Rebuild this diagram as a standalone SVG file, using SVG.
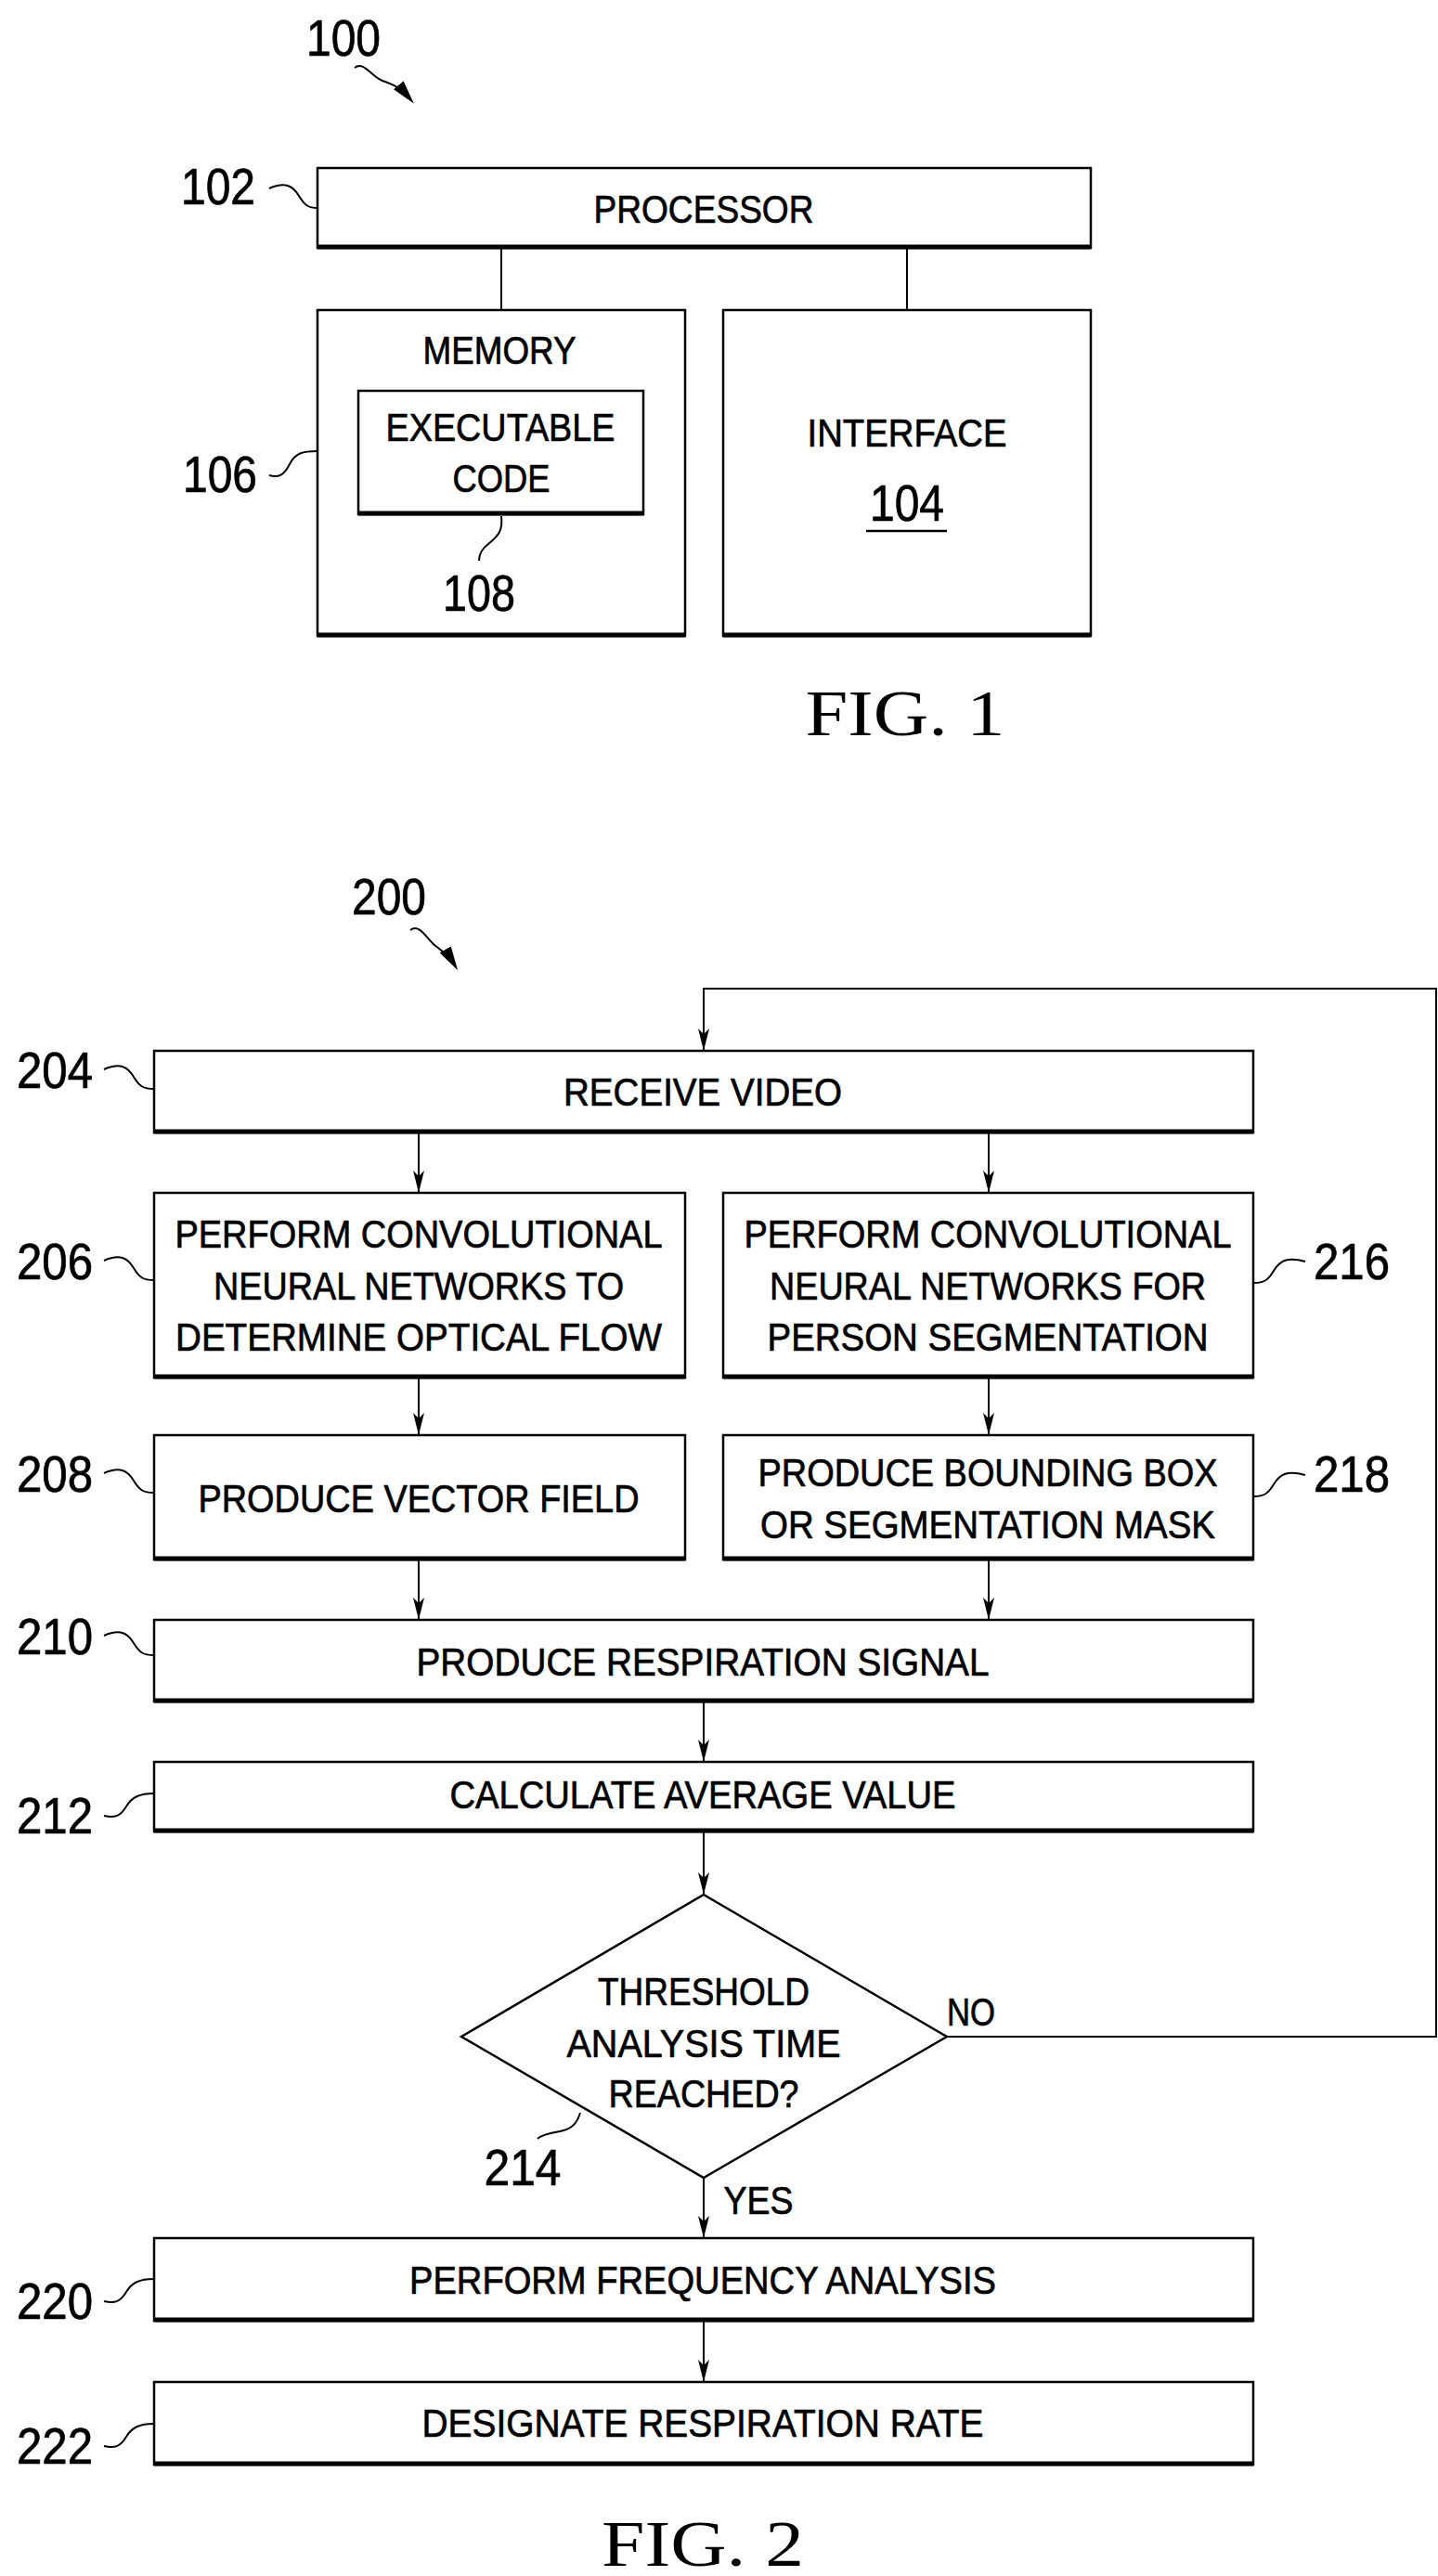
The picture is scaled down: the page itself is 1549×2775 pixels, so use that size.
<svg xmlns="http://www.w3.org/2000/svg" width="1549" height="2775" viewBox="0 0 1549 2775">
<style>
.b{fill:#fff;stroke:#000;stroke-width:2.5}
.sh{stroke:#000;stroke-width:5;fill:none}
.t{font-family:"Liberation Sans",Arial,sans-serif;font-size:43px;text-anchor:middle;fill:#000;stroke:#000;stroke-width:0.7}
.l{font-family:"Liberation Sans",Arial,sans-serif;font-size:55px;text-anchor:middle;fill:#000;stroke:#000;stroke-width:0.7}
.f{font-family:"Liberation Serif","Times New Roman",serif;font-size:70px;text-anchor:middle;fill:#000}
.c{stroke:#000;stroke-width:2;fill:none}
.q{stroke:#000;stroke-width:2;fill:none}
</style>
<defs>
<marker id="a" markerWidth="24" markerHeight="12" refX="24" refY="6" orient="auto" markerUnits="userSpaceOnUse" viewBox="0 0 24 12"><path d="M0,0 L24,6 L0,12 L6,6 Z" fill="#000"/></marker>
<marker id="ah" markerWidth="26" markerHeight="14" refX="20" refY="7" orient="auto" markerUnits="userSpaceOnUse" viewBox="0 0 26 14"><path d="M0,0 L26,7 L0,14 Z" fill="#000"/></marker>
</defs>
<g id="label100"><text class="l" x="370" y="60" textLength="80" lengthAdjust="spacingAndGlyphs">100</text><path class="q" d="M382,73 c10,-8 18,10 30,14 c12,4 20,8 30,20" marker-end="url(#ah)"/></g>
<g id="processor"><rect class="b" x="342" y="181" width="833" height="86"/><line class="sh" x1="342" y1="266" x2="1175" y2="266"/><text class="t" x="758" y="240" textLength="237" lengthAdjust="spacingAndGlyphs">PROCESSOR</text><text class="l" x="235" y="220" textLength="80" lengthAdjust="spacingAndGlyphs">102</text><path class="q" d="M290,203 c18,-8 26,-2 32,8 c6,10 10,13 20,13"/></g>
<g id="memory"><rect class="b" x="342" y="334" width="396" height="351"/><line class="sh" x1="342" y1="684" x2="738" y2="684"/><text class="t" x="538" y="392" textLength="165" lengthAdjust="spacingAndGlyphs">MEMORY</text><text class="l" x="237" y="530" textLength="80" lengthAdjust="spacingAndGlyphs">106</text><path class="q" d="M290,512 c10,3 16,0 22,-12 c6,-12 14,-14 30,-14"/></g>
<g id="code"><rect class="b" x="386" y="421" width="307" height="133"/><line class="sh" x1="386" y1="553" x2="693" y2="553"/><text class="t" x="539" y="475" textLength="247" lengthAdjust="spacingAndGlyphs">EXECUTABLE</text><text class="t" x="540" y="530" textLength="105" lengthAdjust="spacingAndGlyphs">CODE</text><text class="l" x="516" y="658" textLength="78" lengthAdjust="spacingAndGlyphs">108</text><path class="q" d="M540,556 c2,16 -4,22 -14,30 c-8,6 -10,12 -10,18"/></g>
<g id="interface"><rect class="b" x="779" y="334" width="396" height="351"/><line class="sh" x1="779" y1="684" x2="1175" y2="684"/><text class="t" x="977" y="481" textLength="215" lengthAdjust="spacingAndGlyphs">INTERFACE</text><text class="l" x="977" y="561" textLength="80" lengthAdjust="spacingAndGlyphs">104</text><line x1="933" y1="572" x2="1020" y2="572" stroke="#000" stroke-width="2.5"/></g>
<text class="f" x="975" y="792" textLength="215" lengthAdjust="spacingAndGlyphs">FIG. 1</text>
<g id="label200"><text class="l" x="419" y="985" textLength="80" lengthAdjust="spacingAndGlyphs">200</text><path class="q" d="M442,1002 c10,-8 18,10 26,16 c10,8 16,12 22,22" marker-end="url(#ah)"/></g>
<g id="n204"><rect class="b" x="166" y="1132" width="1184" height="88"/><line class="sh" x1="166" y1="1219" x2="1350" y2="1219"/><text class="t" x="757" y="1191" textLength="300" lengthAdjust="spacingAndGlyphs">RECEIVE VIDEO</text><text class="l" x="59" y="1172" textLength="82" lengthAdjust="spacingAndGlyphs">204</text><path class="q" d="M112,1152 c18,-8 26,-2 32,8 c6,10 10,13 22,13"/></g>
<g id="n206"><rect class="b" x="166" y="1285" width="572" height="199"/><line class="sh" x1="166" y1="1483" x2="738" y2="1483"/><text class="t" x="451" y="1344" textLength="525" lengthAdjust="spacingAndGlyphs">PERFORM CONVOLUTIONAL</text><text class="t" x="451" y="1400" textLength="442" lengthAdjust="spacingAndGlyphs">NEURAL NETWORKS TO</text><text class="t" x="451" y="1455" textLength="524" lengthAdjust="spacingAndGlyphs">DETERMINE OPTICAL FLOW</text><text class="l" x="59" y="1378" textLength="82" lengthAdjust="spacingAndGlyphs">206</text><path class="q" d="M112,1358 c18,-8 26,-2 32,8 c6,10 10,13 22,13"/></g>
<g id="n216"><rect class="b" x="779" y="1285" width="571" height="199"/><line class="sh" x1="779" y1="1483" x2="1350" y2="1483"/><text class="t" x="1064" y="1344" textLength="525" lengthAdjust="spacingAndGlyphs">PERFORM CONVOLUTIONAL</text><text class="t" x="1064" y="1400" textLength="470" lengthAdjust="spacingAndGlyphs">NEURAL NETWORKS FOR</text><text class="t" x="1064" y="1455" textLength="475" lengthAdjust="spacingAndGlyphs">PERSON SEGMENTATION</text><text class="l" x="1456" y="1378" textLength="82" lengthAdjust="spacingAndGlyphs">216</text><path class="q" d="M1350,1382 c12,0 16,-3 22,-13 c6,-10 14,-16 34,-10"/></g>
<g id="n208"><rect class="b" x="166" y="1546" width="572" height="134"/><line class="sh" x1="166" y1="1679" x2="738" y2="1679"/><text class="t" x="451" y="1629" textLength="475" lengthAdjust="spacingAndGlyphs">PRODUCE VECTOR FIELD</text><text class="l" x="59" y="1607" textLength="82" lengthAdjust="spacingAndGlyphs">208</text><path class="q" d="M112,1587 c18,-8 26,-2 32,8 c6,10 10,13 22,13"/></g>
<g id="n218"><rect class="b" x="779" y="1546" width="571" height="134"/><line class="sh" x1="779" y1="1679" x2="1350" y2="1679"/><text class="t" x="1064" y="1601" textLength="495" lengthAdjust="spacingAndGlyphs">PRODUCE BOUNDING BOX</text><text class="t" x="1064" y="1657" textLength="490" lengthAdjust="spacingAndGlyphs">OR SEGMENTATION MASK</text><text class="l" x="1456" y="1607" textLength="82" lengthAdjust="spacingAndGlyphs">218</text><path class="q" d="M1350,1612 c12,0 16,-3 22,-13 c6,-10 14,-16 34,-10"/></g>
<g id="n210"><rect class="b" x="166" y="1745" width="1184" height="88"/><line class="sh" x1="166" y1="1832" x2="1350" y2="1832"/><text class="t" x="757" y="1805" textLength="617" lengthAdjust="spacingAndGlyphs">PRODUCE RESPIRATION SIGNAL</text><text class="l" x="59" y="1782" textLength="82" lengthAdjust="spacingAndGlyphs">210</text><path class="q" d="M112,1762 c18,-8 26,-2 32,8 c6,10 10,13 22,13"/></g>
<g id="n212"><rect class="b" x="166" y="1898" width="1184" height="75"/><line class="sh" x1="166" y1="1972" x2="1350" y2="1972"/><text class="t" x="757" y="1948" textLength="545" lengthAdjust="spacingAndGlyphs">CALCULATE AVERAGE VALUE</text><text class="l" x="59" y="1975" textLength="82" lengthAdjust="spacingAndGlyphs">212</text><path class="q" d="M112,1956 c12,3 18,0 24,-10 c6,-10 14,-14 30,-14"/></g>
<g id="n214"><polygon class="b" points="758,2041 1020,2194 758,2346 497,2194"/><text class="t" x="758" y="2160" textLength="228" lengthAdjust="spacingAndGlyphs">THRESHOLD</text><text class="t" x="758" y="2216" textLength="295" lengthAdjust="spacingAndGlyphs">ANALYSIS TIME</text><text class="t" x="758" y="2270" textLength="205" lengthAdjust="spacingAndGlyphs">REACHED?</text><text class="l" x="563" y="2354" textLength="83" lengthAdjust="spacingAndGlyphs">214</text><path class="q" d="M625,2276 c-4,14 -12,18 -22,20 c-12,2 -20,4 -24,8"/></g>
<g id="n220"><rect class="b" x="166" y="2411" width="1184" height="89"/><line class="sh" x1="166" y1="2499" x2="1350" y2="2499"/><text class="t" x="757" y="2471" textLength="632" lengthAdjust="spacingAndGlyphs">PERFORM FREQUENCY ANALYSIS</text><text class="l" x="59" y="2498" textLength="82" lengthAdjust="spacingAndGlyphs">220</text><path class="q" d="M112,2479 c12,3 18,0 24,-10 c6,-10 14,-14 30,-14"/></g>
<g id="n222"><rect class="b" x="166" y="2566" width="1184" height="89"/><line class="sh" x1="166" y1="2654" x2="1350" y2="2654"/><text class="t" x="757" y="2625" textLength="605" lengthAdjust="spacingAndGlyphs">DESIGNATE RESPIRATION RATE</text><text class="l" x="59" y="2654" textLength="82" lengthAdjust="spacingAndGlyphs">222</text><path class="q" d="M112,2635 c12,3 18,0 24,-10 c6,-10 14,-14 30,-14"/></g>
<text class="f" x="757" y="2764" textLength="218" lengthAdjust="spacingAndGlyphs">FIG. 2</text>
<g id="connectors">
<line class="c" x1="540" y1="267" x2="540" y2="334"/>
<line class="c" x1="977" y1="267" x2="977" y2="334"/>
<polyline class="c" points="1020,2194 1547,2194 1547,1065 758,1065 758,1132" marker-end="url(#a)"/>
<line class="c" x1="451" y1="1220" x2="451" y2="1285" marker-end="url(#a)"/>
<line class="c" x1="1065" y1="1220" x2="1065" y2="1285" marker-end="url(#a)"/>
<line class="c" x1="451" y1="1484" x2="451" y2="1546" marker-end="url(#a)"/>
<line class="c" x1="1065" y1="1484" x2="1065" y2="1546" marker-end="url(#a)"/>
<line class="c" x1="451" y1="1680" x2="451" y2="1745" marker-end="url(#a)"/>
<line class="c" x1="1065" y1="1680" x2="1065" y2="1745" marker-end="url(#a)"/>
<line class="c" x1="758" y1="1833" x2="758" y2="1898" marker-end="url(#a)"/>
<line class="c" x1="758" y1="1973" x2="758" y2="2041" marker-end="url(#a)"/>
<line class="c" x1="758" y1="2346" x2="758" y2="2411" marker-end="url(#a)"/>
<line class="c" x1="758" y1="2500" x2="758" y2="2566" marker-end="url(#a)"/>
<text class="t" x="1046" y="2182" textLength="52" lengthAdjust="spacingAndGlyphs">NO</text>
<text class="t" x="817" y="2385" textLength="75" lengthAdjust="spacingAndGlyphs">YES</text>
</g>
</svg>
